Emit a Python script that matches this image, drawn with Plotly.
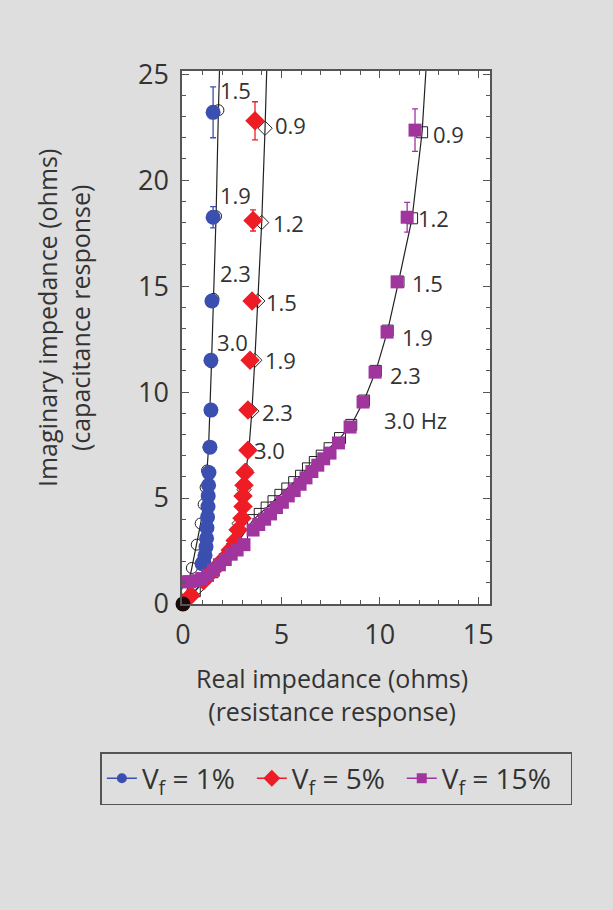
import plotly.graph_objects as go

# ---------------- data ----------------
# V_f = 1% measured
blue_x = [1.53, 1.53, 1.47, 1.42, 1.42, 1.37, 1.32, 1.30, 1.28, 1.27, 1.25, 1.22, 1.20, 1.17, 1.12, 1.05, 0.97]
blue_y = [23.2, 18.25, 14.3, 11.5, 9.15, 7.4, 6.2, 5.6, 5.1, 4.6, 4.1, 3.6, 3.1, 2.7, 2.3, 2.0, 1.9]
blue_err = [1.2, 0.5, 0, 0, 0, 0, 0, 0, 0, 0, 0, 0, 0, 0, 0, 0, 0]
# V_f = 1% model fit
blue_fit_x = [0.0, 0.2, 0.45, 0.7, 0.9, 1.05, 1.15, 1.22, 1.3, 1.38, 1.45, 1.55, 1.68, 1.80, 1.88]
blue_fit_y = [0.0, 0.6, 1.7, 2.8, 3.8, 4.7, 5.5, 6.3, 7.4, 9.1, 11.4, 14.4, 18.3, 23.3, 26.0]

# V_f = 5% measured
red_x = [3.66, 3.56, 3.51, 3.41, 3.30, 3.30, 3.15, 3.10, 3.05, 3.05, 3.00, 2.80, 2.65, 2.40, 2.05, 1.55, 1.05, 0.40]
red_y = [22.8, 18.1, 14.3, 11.5, 9.15, 7.25, 6.2, 5.6, 5.1, 4.6, 4.05, 3.5, 3.0, 2.55, 2.1, 1.6, 1.1, 0.4]
red_err = [0.9, 0.5, 0, 0, 0, 0, 0, 0, 0, 0, 0, 0, 0, 0, 0, 0, 0, 0]
# V_f = 5% model fit
red_fit_x = [0.0, 0.8, 1.6, 2.2, 2.6, 2.85, 3.0, 3.1, 3.2, 3.35, 3.5, 3.65, 3.8, 4.0, 4.17, 4.28]
red_fit_y = [0.0, 0.8, 1.6, 2.3, 3.0, 3.8, 4.6, 5.4, 6.3, 7.3, 9.1, 11.5, 14.3, 18.0, 22.45, 26.0]

# V_f = 15% measured
purple_x = [0.05, 0.35, 0.65, 0.95, 1.25, 1.55, 1.85, 2.15, 2.45, 2.75, 3.10,
            3.56, 3.85, 4.15, 4.45, 4.75, 5.05, 5.35, 5.65, 5.95, 6.25, 6.55, 6.85, 7.15, 7.47,
            7.90, 8.49, 9.15, 9.76, 10.37, 10.88, 11.39, 11.79]
purple_y = [1.05, 1.05, 1.10, 1.20, 1.35, 1.60, 1.85, 2.10, 2.35, 2.55, 2.80,
            3.49, 3.75, 4.00, 4.25, 4.55, 4.80, 5.10, 5.35, 5.65, 5.95, 6.25, 6.55, 6.85, 7.12,
            7.60, 8.35, 9.53, 10.94, 12.83, 15.20, 18.25, 22.36]
purple_err = [0] * 31 + [0.7, 1.0]
# V_f = 15% model fit
purple_fit_x = [0.0, 0.6, 1.5, 2.5, 3.0, 3.56, 3.90, 4.25, 4.60, 4.95, 5.30, 5.65, 6.00, 6.35, 6.70, 7.05, 7.45,
                7.98, 8.55, 9.20, 9.80, 10.40, 10.95, 11.64, 12.15, 12.40]
purple_fit_y = [0.0, 0.6, 1.5, 2.6, 3.2, 3.96, 4.25, 4.55, 4.85, 5.15, 5.45, 5.75, 6.05, 6.40, 6.70, 7.00, 7.35,
                7.83, 8.45, 9.60, 11.00, 12.90, 15.20, 18.20, 22.26, 26.0]

# frequency labels (Hz)
blue_lab = ["1.5", "1.9", "2.3", "3.0"]
blue_lab_x = [2.65, 2.65, 2.65, 2.50]
blue_lab_y = [24.25, 19.3, 15.6, 12.35]
red_lab = ["0.9", "1.2", "1.5", "1.9", "2.3", "3.0"]
red_lab_x = [5.44, 5.34, 5.03, 4.93, 4.78, 4.42]
red_lab_y = [22.6, 18.0, 14.25, 11.5, 9.06, 7.26]
purple_lab = ["0.9", "1.2", "1.5", "1.9", "2.3", "3.0 Hz"]
purple_lab_x = [13.47, 12.71, 12.40, 11.90, 11.29, 11.80]
purple_lab_y = [22.2, 18.2, 15.14, 12.6, 10.8, 8.68]

origin_x = [0.0]
origin_y = [0.0]

x_ticks = [0, 5, 10, 15]
y_ticks = [0, 5, 10, 15, 20, 25]

x_title = "Real impedance (ohms)<br>(resistance response)"
y_title = "Imaginary impedance (ohms)<br>(capacitance response)"
legend_names = ["V<sub>f</sub> = 1%&nbsp;&#8201;", "V<sub>f</sub> = 5%&nbsp;&#8201;",
                "V<sub>f</sub> = 15%&nbsp;&nbsp;"]

BLUE = "#3a4fb0"
RED = "#ee1c25"
PURPLE = "#a0359e"
TXT = "#333333"
FONT = "Open Sans"
BG = "#dedede"

fig = go.Figure()

# model fits (black lines with open markers)
for fx, fy, sym in [(blue_fit_x, blue_fit_y, "circle-open"),
                    (red_fit_x, red_fit_y, "diamond-open"),
                    (purple_fit_x, purple_fit_y, "square-open")]:
    fig.add_trace(go.Scatter(x=fx, y=fy, mode="lines+markers", showlegend=False,
                             line=dict(color="#222222", width=1.2),
                             marker=dict(symbol=sym, size=11, color="#222222", line=dict(width=1))))

# measured data
for mx, my, me, col, sym, sz in [(blue_x, blue_y, blue_err, BLUE, "circle", 15),
                                 (red_x, red_y, red_err, RED, "diamond", 15),
                                 (purple_x, purple_y, purple_err, PURPLE, "square", 13)]:
    fig.add_trace(go.Scatter(x=mx, y=my, mode="markers", showlegend=False,
                             marker=dict(symbol=sym, size=sz, color=col),
                             error_y=dict(type="data", array=me, visible=True, color=col,
                                          thickness=1.3, width=3)))

# origin blob
fig.add_trace(go.Scatter(x=origin_x, y=origin_y, mode="markers", showlegend=False, cliponaxis=False,
                         marker=dict(symbol="circle", size=15, color="#1a0a0a")))

# legend entries
for name, col, sym, sz in zip(legend_names, [BLUE, RED, PURPLE],
                              ["circle", "diamond", "square"], [10, 13, 10]):
    fig.add_trace(go.Scatter(x=[None], y=[None], mode="lines+markers", name=name,
                             line=dict(color=col, width=1.5),
                             marker=dict(symbol=sym, size=sz, color=col)))

# frequency annotations
for labs, lx, ly in [(blue_lab, blue_lab_x, blue_lab_y),
                     (red_lab, red_lab_x, red_lab_y),
                     (purple_lab, purple_lab_x, purple_lab_y)]:
    for t, x, y in zip(labs, lx, ly):
        fig.add_annotation(x=x, y=y, text=t, showarrow=False, xanchor="center", yanchor="middle",
                           font=dict(family=FONT, size=22, color=TXT))

# axis titles
title_font = dict(family=FONT, size=25, color=TXT)
fig.add_annotation(xref="paper", yref="paper", x=0.487, y=-0.1689, text=x_title,
                   showarrow=False, xanchor="center", yanchor="middle", font=title_font)
fig.add_annotation(xref="paper", yref="paper", x=-0.383, y=0.5366, text=y_title,
                   showarrow=False, xanchor="center", yanchor="middle", textangle=-90, font=title_font)

axis_common = dict(showgrid=False, zeroline=False, showline=True, linecolor="#555555", linewidth=1.5,
                   mirror="allticks", ticks="inside", ticklen=7, tickwidth=1.2, tickcolor="#555555",
                   tickfont=dict(family=FONT, size=27, color=TXT), ticklabelstandoff=6,
                   minor=dict(ticks="inside", ticklen=4, tickwidth=1, tickcolor="#555555", dtick=1))

fig.update_xaxes(range=[-0.05, 15.6], tickvals=x_ticks, **axis_common)
fig.update_yaxes(range=[0, 25.15], tickvals=y_ticks, **axis_common)

fig.update_layout(
    width=613, height=910,
    margin=dict(l=182, r=123, t=71, b=306, autoexpand=False),
    paper_bgcolor=BG, plot_bgcolor="white",
    legend=dict(orientation="h", x=-0.265, xanchor="left", y=-0.2777, yanchor="top",
                bgcolor="rgba(0,0,0,0)", bordercolor="#555555", borderwidth=1.5,
                font=dict(family=FONT, size=28, color=TXT), itemwidth=30),
)

fig.write_html("out.html", config={"displayModeBar": False},
               post_script="document.body.style.margin='0';document.body.style.background='%s';" % BG)
